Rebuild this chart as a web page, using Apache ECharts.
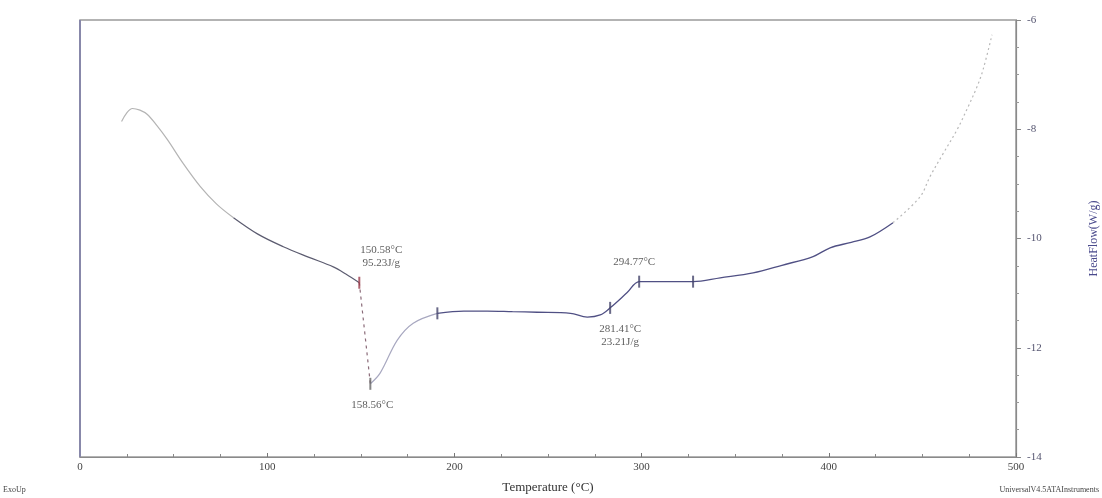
<!DOCTYPE html>
<html>
<head>
<meta charset="utf-8">
<script src="https://cdn.jsdelivr.net/npm/echarts@6/dist/echarts.min.js"></script>
<style>
  html, body { margin: 0; padding: 0; background: #fff; }
  #chart { width: 1102px; height: 498px; }
</style>
</head>
<body>
<div id="chart"></div>
<script>
// DSC trace: temperature (C) and heat flow (W/g)
var tempC    = [22.2, 25.0, 28.0, 32.0, 36.0, 41.0, 46.7, 55.0, 64.3, 73.0, 82.0, 95.0, 108.6, 122.0, 135.3, 142.0, 149.2,
                155.1, 160.4, 169.5, 178.0, 190.9, 205.0, 217.6, 231.0, 244.3, 262.0, 271.0, 277.9, 283.2, 292.3, 298.7,
                312.0, 327.5, 342.0, 359.6, 375.0, 391.6, 400.7, 412.0, 422.0, 434.3, 448.7, 454.0, 461.0, 468.5, 474.0,
                479.2, 482.4, 487.2];
var heatFlow = [-7.86, -7.70, -7.62, -7.65, -7.73, -7.93, -8.19, -8.62, -9.05, -9.37, -9.62, -9.92, -10.15, -10.34, -10.52, -10.65, -10.81,
                -12.66, -12.46, -11.86, -11.55, -11.37, -11.33, -11.33, -11.34, -11.35, -11.37, -11.44, -11.40, -11.27, -10.99, -10.79,
                -10.79, -10.79, -10.72, -10.63, -10.49, -10.33, -10.17, -10.07, -9.97, -9.71, -9.24, -8.87, -8.45, -8.01, -7.62,
                -7.22, -6.91, -6.27];

// analysis marks
var markT = [149.2, 155.1, 190.9, 283.2, 298.7, 327.5];
var markV = [-10.81, -12.66, -11.37, -11.27, -10.79, -10.79];
var markText = ['150.58°C\n95.23J/g', '158.56°C', '', '281.41°C\n23.21J/g', '294.77°C', ''];

function segment(a, b) {
    var out = [];
    for (var i = 0; i < tempC.length; i++) {
        if (tempC[i] >= a && tempC[i] <= b) out.push([tempC[i], heatFlow[i]]);
    }
    return out;
}

var serif = 'Liberation Serif';
var chart = echarts.init(document.getElementById('chart'));

var lineSeries = function (data, color, width, type) {
    return {
        type: 'line', data: data, showSymbol: false, smooth: 0.35,
        lineStyle: { color: color, width: width, type: type || 'solid' },
        silent: true, z: 3
    };
};

var labelPos = [
    { position: 'top', offset: [22, -2] },
    { position: 'bottom', offset: [2, 4] },
    { show: false },
    { position: 'bottom', offset: [10, 4] },
    { position: 'top', offset: [-5, -2] },
    { show: false }
];

var marks = markT.map(function (t, i) {
    var lp = labelPos[i];
    return {
        value: [t, markV[i]],
        itemStyle: { color: i === 0 ? '#9a3a4a' : (i === 1 ? '#666' : '#44446a') },
        label: {
            show: lp.show !== false && markText[i] !== '',
            formatter: markText[i],
            position: lp.position,
            offset: lp.offset,
            fontFamily: serif, fontSize: 11, color: '#333', lineHeight: 13
        }
    };
});

var option = {
    backgroundColor: '#fff',
    animation: false,
    grid: {
        left: 80, right: 86, top: 20, bottom: 41, containLabel: false, outerBoundsMode: 'none',
        show: true, borderColor: '#9a9a9a', borderWidth: 1.5
    },
    xAxis: {
        type: 'value', min: 0, max: 500, interval: 100,
        name: 'Temperature (°C)', nameLocation: 'middle', nameGap: 24,
        nameTextStyle: { fontFamily: serif, fontSize: 13, color: '#333' },
        axisLine: { onZero: false, lineStyle: { color: '#8a8a8a', width: 1.2 } },
        axisTick: { inside: true, length: 4, lineStyle: { color: '#777' } },
        minorTick: { show: true, splitNumber: 4, length: 3, lineStyle: { color: '#888' } },
        axisLabel: { fontFamily: serif, fontSize: 11, color: '#444', margin: 5 },
        splitLine: { show: false }
    },
    yAxis: {
        type: 'value', position: 'right', min: -14, max: -6, interval: 2,
        name: 'HeatFlow(W/g)', nameLocation: 'middle', nameGap: 72, nameRotate: 90,
        nameTextStyle: { fontFamily: serif, fontSize: 12, color: '#4a4a8c' },
        axisLine: { show: true, onZero: false, lineStyle: { color: '#8a8a8a', width: 1.2 } },
        axisTick: { show: true, inside: false, length: 5, lineStyle: { color: '#888' } },
        minorTick: { show: true, splitNumber: 4, length: 3, lineStyle: { color: '#999' } },
        axisLabel: { fontFamily: serif, fontSize: 11, color: '#555570', margin: 11 },
        splitLine: { show: false }
    },
    series: [
        lineSeries(segment(20, 84), '#b4b4b4', 1.2),
        lineSeries(segment(80, 149.3), '#5c5c70', 1.2),
        lineSeries([[149.2, -10.81], [155.1, -12.66]], '#8a6a78', 1.2, [3, 4]),
        lineSeries(segment(155, 191), '#a8a8c0', 1.2),
        lineSeries(segment(190, 435), '#505084', 1.3),
        lineSeries(segment(434, 490), '#b8b8b8', 1.2, [2, 3]),
        {
            type: 'scatter', symbol: 'rect', symbolSize: [2, 12], data: marks, z: 5, silent: true
        }
    ],
    graphic: [
        { type: 'line', shape: { x1: 80, y1: 20, x2: 80, y2: 457 }, style: { stroke: '#8888aa', lineWidth: 2 }, z: 10 },
        { type: 'text', left: 3, top: 486, style: { text: 'ExoUp', fontFamily: serif, fontSize: 8, fill: '#444' } },
        { type: 'text', right: 3, top: 486, style: { text: 'UniversalV4.5ATAInstruments', fontFamily: serif, fontSize: 8, fill: '#444' } }
    ]
};

chart.setOption(option);
</script>
</body>
</html>
